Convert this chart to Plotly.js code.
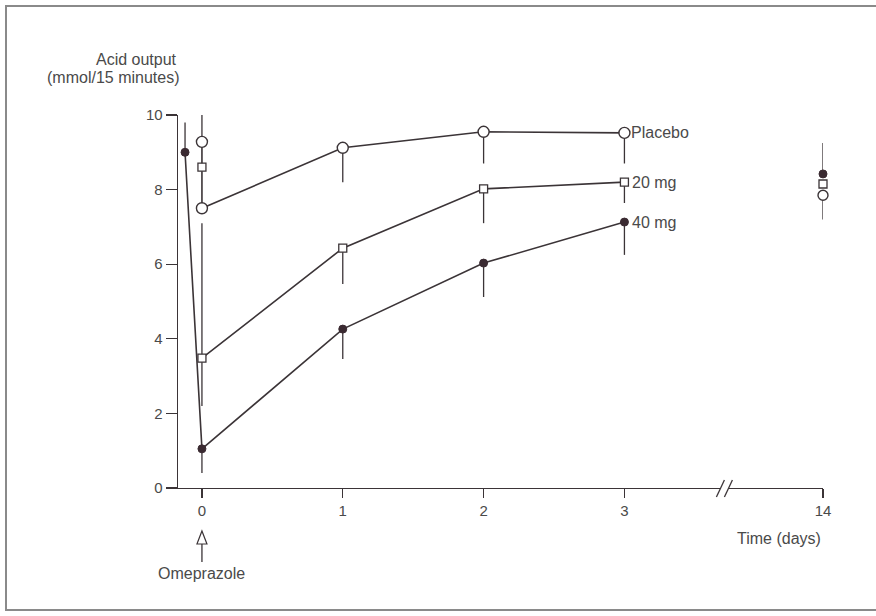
<!DOCTYPE html>
<html>
<head>
<meta charset="utf-8">
<script src="https://cdn.plot.ly/plotly-3.0.1.min.js"></script>
<style>
  html, body { margin: 0; padding: 0; background: #ffffff; }
  #wrap { position: relative; width: 876px; height: 616px; overflow: hidden; background: #fff; }
  #chart { position: absolute; left: 0; top: 0; width: 876px; height: 616px; }
  #frame { position: absolute; left: 5px; top: 5px; width: 880px; height: 606px;
           border: 2px solid #8a8a8a; pointer-events: none; box-sizing: border-box; }
</style>
</head>
<body>
<div id="wrap">
  <div id="chart"></div>
  <div id="frame"></div>
</div>
<script>
// ---------- data ----------
// axis positions: days 0..3 are linear, 14 days sits after an axis break
const tickLabels = ["0", "1", "2", "3", "14"];
const tickPos    = [0, 1, 2, 3, 4.41];
const day14Pos   = 4.41;
const breakPos   = 3.71;

// Placebo (open circles): pre-dose at 0, post-dose at 0, then days 1-3
const placeboX      = [0, 0, 1, 2, 3];
const placeboY      = [9.28, 7.5, 9.12, 9.55, 9.52];
const placeboErrUp  = [0.72, 0, 0, 0, 0];
const placeboErrDn  = [0, 0, 0.92, 0.85, 0.82];

// 20 mg (open squares)
const mg20PreX      = [0];
const mg20PreY      = [8.6];
const mg20X         = [0, 1, 2, 3];
const mg20Y         = [3.48, 6.43, 8.02, 8.2];
const mg20ErrUp     = [3.62, 0, 0, 0];
const mg20ErrDn     = [1.28, 0.96, 0.92, 0.56];

// 40 mg (filled circles): pre-dose slightly before 0
const mg40X         = [-0.12, 0, 1, 2, 3];
const mg40Y         = [9.0, 1.05, 4.26, 6.03, 7.13];
const mg40ErrUp     = [0.8, 0, 0, 0, 0];
const mg40ErrDn     = [0, 0.65, 0.8, 0.91, 0.88];

// Day 14 values
const day14Names    = ["40 mg", "20 mg", "Placebo"];
const day14Y        = [8.42, 8.15, 7.85];
const day14ErrUp    = [0.83, 0, 0];
const day14ErrDn    = [0, 0, 0.65];

// ---------- styling ----------
const INK = '#3b3437';
const DOT = '#3a2a31';
const TXT = '#4a4a4a';
const FONT = 'Liberation Sans, Arial, Helvetica, sans-serif';
const X_RANGE = [-0.17, 4.41];
const Y_RANGE = [0, 10];
const M = {l: 178, r: 53, t: 115, b: 128};
const PW = 876 - M.l - M.r, PH = 616 - M.t - M.b;

function err(up, dn) {
  return {type: 'data', symmetric: false, array: up, arrayminus: dn,
          color: INK, thickness: 1.3, width: 0};
}

const traces = [
  {x: mg40X, y: mg40Y, type: 'scatter', mode: 'lines+markers', name: '40 mg',
   line: {color: INK, width: 1.6},
   marker: {symbol: 'circle', size: 8, color: DOT, line: {color: DOT, width: 1}},
   error_y: err(mg40ErrUp, mg40ErrDn), cliponaxis: false},
  {x: mg20X, y: mg20Y, type: 'scatter', mode: 'lines+markers', name: '20 mg',
   line: {color: INK, width: 1.6},
   marker: {symbol: 'square', size: 8, color: '#ffffff', line: {color: INK, width: 1.3}},
   error_y: err(mg20ErrUp, mg20ErrDn), cliponaxis: false},
  {x: placeboX, y: placeboY, type: 'scatter', mode: 'lines+markers', name: 'Placebo',
   line: {color: INK, width: 1.6},
   marker: {symbol: 'circle', size: 11, color: '#ffffff', line: {color: INK, width: 1.4}},
   error_y: err(placeboErrUp, placeboErrDn), cliponaxis: false},
  {x: mg20PreX, y: mg20PreY, type: 'scatter', mode: 'markers', name: '20 mg pre',
   marker: {symbol: 'square', size: 8, color: '#ffffff', line: {color: INK, width: 1.3}},
   cliponaxis: false},
  // day 14
  {x: [day14Pos], y: [day14Y[0]], type: 'scatter', mode: 'markers', name: day14Names[0],
   marker: {symbol: 'circle', size: 8, color: DOT, line: {color: DOT, width: 1}},
   error_y: err([day14ErrUp[0]], [day14ErrDn[0]]), cliponaxis: false},
  {x: [day14Pos], y: [day14Y[2]], type: 'scatter', mode: 'markers', name: day14Names[2],
   marker: {symbol: 'circle', size: 10, color: '#ffffff', line: {color: INK, width: 1.4}},
   error_y: err([day14ErrUp[2]], [day14ErrDn[2]]), cliponaxis: false},
  {x: [day14Pos], y: [day14Y[1]], type: 'scatter', mode: 'markers', name: day14Names[1],
   marker: {symbol: 'square', size: 8, color: '#ffffff', line: {color: INK, width: 1.3}},
   cliponaxis: false}
];

// helpers to convert pixel offsets to paper coords
const px2paperX = p => (p - M.l) / PW;
const px2paperY = p => (616 - M.b - p) / PH;
const dataX2px = v => M.l + (v - X_RANGE[0]) / (X_RANGE[1] - X_RANGE[0]) * PW;

const x0px = dataX2px(0);
const brkPx = dataX2px(breakPos);
const axisY = 616 - M.b;

const shapes = [
  // axis break: white gap + two slashes
  {type: 'rect', xref: 'paper', yref: 'paper',
   x0: px2paperX(brkPx - 4), x1: px2paperX(brkPx + 4), y0: px2paperY(axisY + 2), y1: px2paperY(axisY - 2),
   fillcolor: '#ffffff', line: {width: 0}, layer: 'above'},
  {type: 'line', xref: 'paper', yref: 'paper',
   x0: px2paperX(brkPx - 8), y0: px2paperY(axisY + 9), x1: px2paperX(brkPx), y1: px2paperY(axisY - 8),
   line: {color: INK, width: 1.3}, layer: 'above'},
  {type: 'line', xref: 'paper', yref: 'paper',
   x0: px2paperX(brkPx), y0: px2paperY(axisY + 9), x1: px2paperX(brkPx + 8), y1: px2paperY(axisY - 8),
   line: {color: INK, width: 1.3}, layer: 'above'},
  // omeprazole arrow: open head + shaft
  {type: 'path', xref: 'paper', yref: 'paper',
   path: 'M ' + px2paperX(x0px - 5) + ' ' + px2paperY(544) +
         ' L ' + px2paperX(x0px) + ' ' + px2paperY(531) +
         ' L ' + px2paperX(x0px + 5) + ' ' + px2paperY(544) + ' Z',
   fillcolor: '#ffffff', line: {color: INK, width: 1.2}},
  {type: 'line', xref: 'paper', yref: 'paper',
   x0: px2paperX(x0px), y0: px2paperY(544), x1: px2paperX(x0px), y1: px2paperY(562),
   line: {color: INK, width: 1.3}}
];

const annotations = [
  {text: 'Acid output', xref: 'paper', yref: 'paper', x: px2paperX(179), y: px2paperY(60),
   xanchor: 'right', yanchor: 'middle', showarrow: false, font: {family: FONT, size: 16, color: TXT}},
  {text: '(mmol/15 minutes)', xref: 'paper', yref: 'paper', x: px2paperX(181), y: px2paperY(78),
   xanchor: 'right', yanchor: 'middle', showarrow: false, font: {family: FONT, size: 16, color: TXT}},
  {text: 'Placebo', x: placeboX[4], y: placeboY[4], xanchor: 'left', yanchor: 'middle', xshift: 5,
   showarrow: false, font: {family: FONT, size: 16, color: TXT}},
  {text: '20 mg', x: mg20X[3], y: mg20Y[3], xanchor: 'left', yanchor: 'middle', xshift: 6,
   showarrow: false, font: {family: FONT, size: 16, color: TXT}},
  {text: '40 mg', x: mg40X[4], y: mg40Y[4], xanchor: 'left', yanchor: 'middle', xshift: 6,
   showarrow: false, font: {family: FONT, size: 16, color: TXT}},
  {text: 'Time (days)', xref: 'paper', yref: 'paper', x: px2paperX(823), y: px2paperY(538),
   xanchor: 'right', yanchor: 'middle', showarrow: false, font: {family: FONT, size: 16, color: TXT}},
  {text: 'Omeprazole', xref: 'paper', yref: 'paper', x: px2paperX(x0px), y: px2paperY(573),
   xanchor: 'center', yanchor: 'middle', showarrow: false, font: {family: FONT, size: 16, color: TXT}}
];

const layout = {
  width: 876, height: 616,
  margin: M,
  paper_bgcolor: '#ffffff', plot_bgcolor: '#ffffff',
  showlegend: false,
  font: {family: FONT, color: TXT, size: 15},
  xaxis: {range: X_RANGE, tickmode: 'array', tickvals: tickPos, ticktext: tickLabels,
          showgrid: false, zeroline: false, showline: true, linecolor: INK, linewidth: 1.4,
          ticks: 'outside', ticklen: 9, tickwidth: 1.2, tickcolor: INK,
          tickfont: {family: FONT, size: 15, color: TXT}, fixedrange: true},
  yaxis: {range: Y_RANGE, tickmode: 'array', tickvals: [0, 2, 4, 6, 8, 10],
          showgrid: false, zeroline: false, showline: true, linecolor: INK, linewidth: 1.4,
          ticks: 'outside', ticklen: 11, tickwidth: 1.2, tickcolor: INK,
          tickfont: {family: FONT, size: 15, color: TXT}, fixedrange: true},
  shapes: shapes,
  annotations: annotations
};

Plotly.newPlot('chart', traces, layout, {displayModeBar: false, staticPlot: true});
</script>
</body>
</html>
